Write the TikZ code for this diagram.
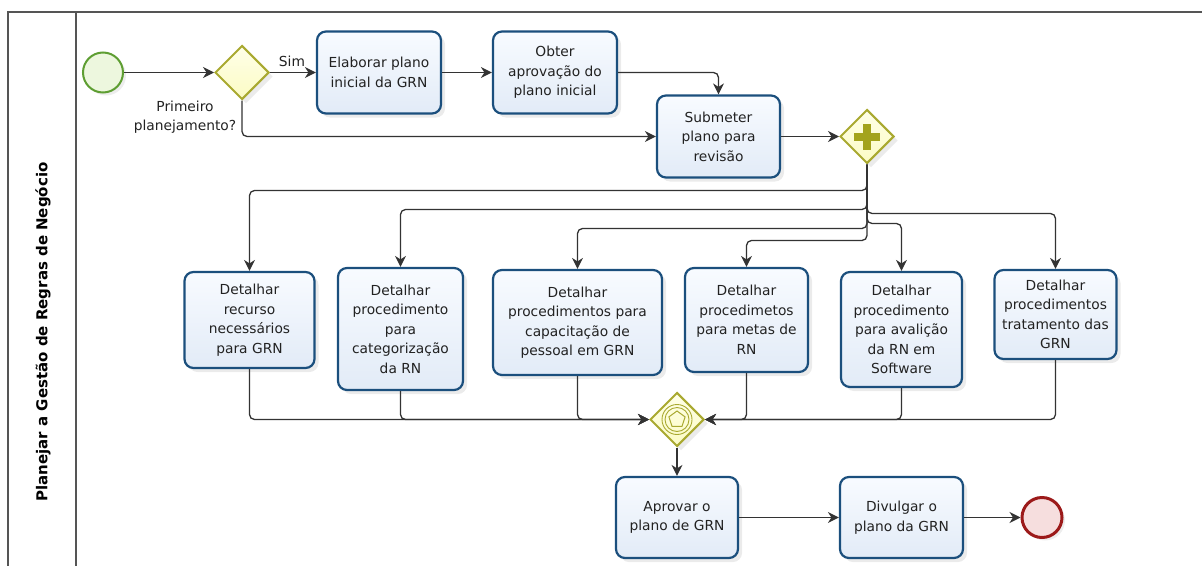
\documentclass[tikz,border=0pt]{standalone}
\usepackage{fontspec}
\setmainfont{DejaVu Sans}
\usetikzlibrary{shapes.geometric,arrows.meta,shadows,calc}
\definecolor{taskborder}{HTML}{1B4F7D}
\definecolor{taskA}{HTML}{F8FBFF}
\definecolor{taskB}{HTML}{E2EBF7}
\definecolor{linecol}{HTML}{333333}
\definecolor{txt}{HTML}{222222}
\definecolor{gwborder}{HTML}{A9A930}
\definecolor{gwA}{HTML}{FFFFE8}
\definecolor{gwB}{HTML}{FBFBC4}
\definecolor{plusc}{HTML}{A3A31C}
\definecolor{startborder}{HTML}{5E9E32}
\definecolor{startfill}{HTML}{EDF7DE}
\definecolor{endborder}{HTML}{9C1A1A}
\definecolor{endfill}{HTML}{F6DEDE}
\definecolor{framecol}{HTML}{555555}
\begin{document}
\begin{tikzpicture}[x=1pt,y=-1pt,
  basefont/.style={font=\fontsize{13.8}{19.5}\selectfont, text=txt},
  task/.style={rectangle, rounded corners=9pt, draw=taskborder, line width=2.2pt,
    top color=taskA, bottom color=taskB, align=center, basefont, inner sep=2pt,
    drop shadow={opacity=0.16, shadow xshift=4pt, shadow yshift=-4pt}},
  gateway/.style={diamond, aspect=1, minimum width=54pt, minimum height=54pt, inner sep=0pt,
    draw=gwborder, line width=2pt, top color=gwA, bottom color=gwB,
    drop shadow={opacity=0.16, shadow xshift=4pt, shadow yshift=-4pt}},
  startev/.style={circle, minimum size=40pt, inner sep=0pt, draw=startborder, line width=2pt,
    fill=startfill, drop shadow={opacity=0.14, shadow xshift=3pt, shadow yshift=-3pt}},
  endev/.style={circle, minimum size=40pt, inner sep=0pt, draw=endborder, line width=3pt,
    fill=endfill, drop shadow={opacity=0.14, shadow xshift=3pt, shadow yshift=-3pt}},
  flow/.style={draw=linecol, line width=1.3pt, rounded corners=5pt,
    -{Stealth[length=11pt,width=11pt,inset=3.5pt]}},
  lbl/.style={basefont, align=center, inner sep=0pt},
]
\useasboundingbox (0,0) rectangle (1202,565);
% pool frame
\draw[framecol, line width=1.2pt] (1202,12) -- (8,12) -- (8,566);
\draw[framecol, line width=1.2pt] (76,12) -- (76,566);
\node[rotate=90, font=\bfseries\fontsize{15}{18}\selectfont, text=black] (lane) at (43,332) {Planejar a Gestão de Regras de Negócio};

% events and gateways
\node[startev] (start) at (103,72.5) {};
\node[gateway] (gw1) at (242,72.5) {};
\node[gateway] (gw2) at (867,136.5) {};
\node[gateway] (gw3) at (677,419.5) {};
\node[endev] (endev) at (1042,517.5) {};

% plus of parallel gateway
\fill[plusc] ($(gw2)+(-13,-4)$) rectangle ($(gw2)+(13,4)$);
\fill[plusc] ($(gw2)+(-4,-13)$) rectangle ($(gw2)+(4,13)$);
% complex symbol
\draw[gwborder, line width=0.9pt] (gw3) circle[radius=15pt];
\draw[gwborder, line width=0.9pt] (gw3) circle[radius=12pt];
\node[regular polygon, regular polygon sides=5, minimum size=17pt, inner sep=0pt,
  draw=gwborder, line width=1pt] (pent) at (gw3) {};

% tasks
\node[task, minimum width=124pt, minimum height=82pt] (elab) at (379,72.5) {Elaborar plano\\inicial da GRN};
\node[task, minimum width=124pt, minimum height=82pt] (obter) at (555,72.5) {Obter\\aprovação do\\plano inicial};
\node[task, minimum width=123pt, minimum height=82pt] (subm) at (718.5,136.5) {Submeter\\plano para\\revisão};

\node[task, minimum width=130pt, minimum height=96pt] (b1) at (249.5,320) {Detalhar\\recurso\\necessários\\para GRN};
\node[task, minimum width=125pt, minimum height=122pt] (b2) at (400.5,329) {Detalhar\\procedimento\\para\\categorização\\da RN};
\node[task, minimum width=169pt, minimum height=105pt] (b3) at (577.5,322.5) {Detalhar\\procedimentos para\\capacitação de\\pessoal em GRN};
\node[task, minimum width=123pt, minimum height=104pt] (b4) at (746.5,320) {Detalhar\\procedimetos\\para metas de\\RN};
\node[task, minimum width=121pt, minimum height=115pt] (b5) at (901.5,329.5) {Detalhar\\procedimento\\para avalição\\da RN em\\Software};
\node[task, minimum width=122pt, minimum height=89pt] (b6) at (1055.5,314.5) {Detalhar\\procedimentos\\tratamento das\\GRN};

\node[task, minimum width=122pt, minimum height=81pt] (aprov) at (677,517.5) {Aprovar o\\plano de GRN};
\node[task, minimum width=123pt, minimum height=81pt] (divul) at (901.5,517.5) {Divulgar o\\plano da GRN};

% labels
\node[lbl] (sim) at (292,61) {Sim};
\node[lbl] (prim) at (185,117) {Primeiro\\planejamento?};

% flows top
\draw[flow] (start) -- (gw1);
\draw[flow] (gw1) -- (elab);
\draw[flow] (gw1.south) |- (subm.west);
\draw[flow] (elab) -- (obter);
\draw[flow] (obter.east) -| (subm.north);
\draw[flow] (subm) -- (gw2);

% split
\coordinate (s1) at (0,190.5);
\coordinate (s2) at (0,209.5);
\coordinate (s3) at (0,228.5);
\coordinate (s4) at (0,240.5);
\coordinate (s5) at (0,223.5);
\coordinate (s6) at (0,213.5);
\draw[flow] (gw2.south) |- (b1.north |- s1) -- (b1.north);
\draw[flow] (gw2.south) |- (b2.north |- s2) -- (b2.north);
\draw[flow] (gw2.south) |- (b3.north |- s3) -- (b3.north);
\draw[flow] (gw2.south) |- (b4.north |- s4) -- (b4.north);
\draw[flow] (gw2.south) |- (b5.north |- s5) -- (b5.north);
\draw[flow] (gw2.south) |- (b6.north |- s6) -- (b6.north);

% join
\draw[flow] (b1.south) |- (gw3.west);
\draw[flow] (b2.south) |- (gw3.west);
\draw[flow] (b3.south) |- (gw3.west);
\draw[flow] (b4.south) |- (gw3.east);
\draw[flow] (b5.south) |- (gw3.east);
\draw[flow] (b6.south) |- (gw3.east);

% bottom
\draw[flow] (gw3) -- (aprov);
\draw[flow] (aprov) -- (divul);
\draw[flow] (divul) -- (endev);
\end{tikzpicture}
\end{document}
